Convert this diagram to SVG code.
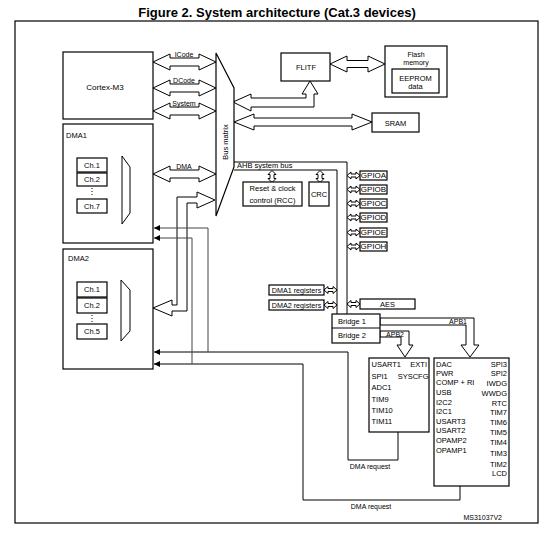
<svg xmlns="http://www.w3.org/2000/svg" xmlns:xlink="http://www.w3.org/1999/xlink" width="552" height="538" viewBox="0 0 552 538">
<style>
.b{fill:#fff;stroke:#000;stroke-width:1.2}
.t{font-family:"Liberation Sans",Arial,Helvetica,sans-serif;font-size:7.5px;fill:#000}
.s{font-size:7px}
.m{text-anchor:middle}
.e{text-anchor:end}
.h{fill:#fff;stroke:#000;stroke-width:1}
.l{fill:none;stroke:#000;stroke-width:1}
.g{fill:none;stroke:#444;stroke-width:1}
.d{fill:none;stroke:#000;stroke-width:1;stroke-dasharray:1,2}
</style>
<defs>
<marker id="ah" viewBox="0 0 6 6" refX="6" refY="3" markerWidth="6" markerHeight="6" orient="auto" markerUnits="userSpaceOnUse"><path d="M0,0 L6,3 L0,6 Z" fill="#000"/></marker>
<path id="dh" class="h" d="M0,0 L4,-3.5 L4,-1.5 L9,-1.5 L9,-3.5 L13,0 L9,3.5 L9,1.5 L4,1.5 L4,3.5 Z"/>
<path id="dv" class="h" d="M0,0 L4,4 L2,4 L2,8 L4,8 L0,12 L-4,8 L-2,8 L-2,4 L-4,4 Z"/>
</defs>
<rect width="552" height="538" fill="#fff"/>
<text class="t" x="277" y="16.6" text-anchor="middle" style="font-size:13px;font-weight:bold">Figure 2. System architecture (Cat.3 devices)</text>
<rect x="15" y="21" width="523" height="502" fill="none" stroke="#000" stroke-width="1.2"/>

<g id="connectors">
<polygon class="h" points="153,62 170,54 170,58 199,58 199,54 216,62 199,70 199,66 170,66 170,70"/>
<text class="t s m" x="184" y="56.7">ICode</text>
<polygon class="h" points="153,88 170,80 170,84 199,84 199,80 216,88 199,96 199,92 170,92 170,96"/>
<text class="t s m" x="184" y="82.5">DCode</text>
<polygon class="h" points="153,111 170,103 170,107 199,107 199,103 216,111 199,119 199,115 170,115 170,119"/>
<text class="t s m" x="184" y="105.5">System</text>
<polygon class="h" points="153,174 170,166 170,170 199,170 199,166 216,174 199,182 199,178 170,178 170,182"/>
<text class="t s m" x="184" y="168.5">DMA</text>
<polygon class="h" points="153,308 172,300 172,305 177,305 177,197 197,197 197,192 215,200 197,208 197,203 187,203 187,311 172,311 172,316"/>
<polygon class="h" points="233,102 251,94 251,98 306,98 306,94 302,94 310,81 318,94 314,94 314,107 251,107 251,111"/>
<polygon class="h" points="330,64 347,56 347,60.5 368,60.5 368,56 385,64 368,72 368,67.5 347,67.5 347,72"/>
<polygon class="h" points="234,122 254,114 254,118 352,118 352,114 372,122 352,130 352,126 254,126 254,130"/>
<path class="l" d="M234,162 H347 V314 M234,170 H337 V314"/>
<text class="t" x="237" y="168">AHB  system  bus</text>
<use xlink:href="#dv" x="272" y="170.5"/>
<use xlink:href="#dv" x="320" y="170.5"/>
<use xlink:href="#dh" x="347" y="175.5"/>
<use xlink:href="#dh" x="347" y="189.5"/>
<use xlink:href="#dh" x="347" y="203.5"/>
<use xlink:href="#dh" x="347" y="217.5"/>
<use xlink:href="#dh" x="347" y="232.5"/>
<use xlink:href="#dh" x="347" y="246.5"/>
<use xlink:href="#dh" x="324" y="290"/>
<use xlink:href="#dh" x="324" y="305"/>
<use xlink:href="#dh" x="347" y="304"/>
<polygon class="h" points="380,318 474,318 474,345 479,345 470,357 461,345 466,345 466,325 380,325"/>
<text class="t s e" x="467" y="324">APB1</text>
<polygon class="h" points="380,331 409,331 409,345 413,345 405,357 397,345 401,345 401,337 380,337"/>
<text class="t s e" x="404" y="336.5">APB2</text>
<path class="l" d="M107,160 H122 M107,176 H122 M107,202 H122 M107,285 H121 M107,301 H121 M107,327 H121" marker-end="url(#ah)"/>
<path class="l" d="M398,432 V460 H348 V352 H154" marker-end="url(#ah)"/>
<path class="g" d="M208,352 V228 H154" marker-end="url(#ah)"/>
<path class="l" d="M460,486 V500 H303 V364 H154" marker-end="url(#ah)"/>
<path class="g" d="M192,364 V238 H154" marker-end="url(#ah)"/>
<text class="t s m" x="370" y="468.7">DMA  request</text>
<text class="t s m" x="371" y="508.7">DMA  request</text>
</g>

<g id="cortex">
<rect class="b" x="63" y="52" width="90" height="67"/>
<text class="t m" x="105" y="90" style="font-size:8px">Cortex-M3</text>
</g>

<g id="dma1">
<rect class="b" x="63" y="124" width="90" height="119"/>
<text class="t" x="66" y="138">DMA1</text>
<rect class="b" x="77" y="158" width="30" height="14"/>
<text class="t m" x="92" y="167.7">Ch.1</text>
<rect class="b" x="77" y="173" width="30" height="13"/>
<text class="t m" x="92" y="182.2">Ch.2</text>
<line class="d" x1="92" y1="188" x2="92" y2="197"/>
<rect class="b" x="77" y="199" width="30" height="14"/>
<text class="t m" x="92" y="208.7">Ch.7</text>
<polygon class="l" points="122,156 130,167 130,213 122,224"/>
</g>

<g id="dma2">
<rect class="b" x="63" y="249" width="90" height="120"/>
<text class="t" x="68" y="261">DMA2</text>
<rect class="b" x="77" y="282" width="30" height="15"/>
<text class="t m" x="92" y="292.2">Ch.1</text>
<rect class="b" x="77" y="298" width="30" height="15"/>
<text class="t m" x="92" y="308.2">Ch.2</text>
<line class="d" x1="92" y1="315" x2="92" y2="323"/>
<rect class="b" x="77" y="324" width="30" height="15"/>
<text class="t m" x="92" y="334.2">Ch.5</text>
<polygon class="l" points="121,280 130,290 130,331 121,341"/>
</g>

<g id="busmatrix">
<polygon class="b" points="216,53 234,88 234,167 216,216"/>
<text class="t m" transform="translate(227.5,142) rotate(-90)">Bus matrix</text>
</g>

<g id="flitf">
<rect class="b" x="281" y="53" width="49" height="28"/>
<text class="t m" x="306" y="70">FLITF</text>
</g>

<g id="flash">
<rect class="b" x="385" y="46" width="62" height="51"/>
<text class="t s m" x="416" y="56.5">Flash</text>
<text class="t s m" x="416" y="64.5">memory</text>
<rect class="b" x="392" y="69" width="47" height="24"/>
<text class="t m" x="415.5" y="80.7">EEPROM</text>
<text class="t m" x="415.5" y="88.7">data</text>
</g>

<g id="sram">
<rect class="b" x="372" y="113" width="47" height="19"/>
<text class="t m" x="395.5" y="125.7">SRAM</text>
</g>

<g id="rcc">
<rect class="b" x="243" y="182" width="59" height="24"/>
<text class="t m" x="272.5" y="190.5">Reset &amp; clock</text>
<text class="t m" x="272.5" y="202.7">control (RCC)</text>
</g>

<g id="crc">
<rect class="b" x="309" y="182" width="20" height="24"/>
<text class="t m" x="319" y="196.7">CRC</text>
</g>

<g id="gpioa"><rect class="b" x="360" y="171" width="27" height="9"/><text class="t m" x="373.5" y="178.4" style="font-size:8px">GPIOA</text></g>
<g id="gpiob"><rect class="b" x="360" y="185" width="27" height="9"/><text class="t m" x="373.5" y="192.4" style="font-size:8px">GPIOB</text></g>
<g id="gpioc"><rect class="b" x="360" y="199" width="27" height="9"/><text class="t m" x="373.5" y="206.4" style="font-size:8px">GPIOC</text></g>
<g id="gpiod"><rect class="b" x="360" y="213" width="27" height="9"/><text class="t m" x="373.5" y="220.4" style="font-size:8px">GPIOD</text></g>
<g id="gpioe"><rect class="b" x="360" y="228" width="27" height="9"/><text class="t m" x="373.5" y="235.4" style="font-size:8px">GPIOE</text></g>
<g id="gpioh"><rect class="b" x="360" y="242" width="27" height="9"/><text class="t m" x="373.5" y="249.4" style="font-size:8px">GPIOH</text></g>

<g id="dma1reg"><rect class="b" x="269" y="285" width="55" height="10"/><text class="t m" x="296.5" y="292.7" style="font-size:7.2px">DMA1 registers</text></g>
<g id="dma2reg"><rect class="b" x="269" y="300" width="55" height="10"/><text class="t m" x="296.5" y="307.7" style="font-size:7.2px">DMA2 registers</text></g>
<g id="aes"><rect class="b" x="360" y="299" width="55" height="10"/><text class="t m" x="387.5" y="306.7">AES</text></g>

<g id="bridge">
<rect class="b" x="332" y="314" width="48" height="29"/>
<line class="l" x1="332" y1="328" x2="380" y2="328"/>
<text class="t" x="338" y="323.5">Bridge  1</text>
<text class="t" x="338" y="337.7">Bridge  2</text>
</g>

<g id="apb2periph">
<rect class="b" x="369" y="358" width="60" height="74"/>
<text class="t" x="371.5" y="366.7">USART1</text>
<text class="t e" x="427" y="366.7">EXTI</text>
<text class="t" x="371.5" y="378.7">SPI1</text>
<text class="t e" x="428.5" y="378.7">SYSCFG</text>
<text class="t" x="371.5" y="390.3">ADC1</text>
<text class="t" x="371.5" y="401.7">TIM9</text>
<text class="t" x="371.5" y="412.7">TIM10</text>
<text class="t" x="371.5" y="424">TIM11</text>
</g>

<g id="apb1periph">
<rect class="b" x="434" y="358" width="75" height="128"/>
<text class="t" x="436" y="366.7">DAC</text>
<text class="t" x="436" y="376">PWR</text>
<text class="t" x="436" y="385.4">COMP + RI</text>
<text class="t" x="436" y="395">USB</text>
<text class="t" x="436" y="404.7">I2C2</text>
<text class="t" x="436" y="414.4">I2C1</text>
<text class="t" x="436" y="424">USART3</text>
<text class="t" x="436" y="433">USART2</text>
<text class="t" x="436" y="443.4">OPAMP2</text>
<text class="t" x="436" y="452.7">OPAMP1</text>
<text class="t e" x="507" y="366.7">SPI3</text>
<text class="t e" x="507" y="376">SPI2</text>
<text class="t e" x="507" y="386">IWDG</text>
<text class="t e" x="507" y="396">WWDG</text>
<text class="t e" x="507" y="406">RTC</text>
<text class="t e" x="507" y="415.4">TIM7</text>
<text class="t e" x="507" y="425.4">TIM6</text>
<text class="t e" x="507" y="435">TIM5</text>
<text class="t e" x="507" y="444.7">TIM4</text>
<text class="t e" x="507" y="456">TIM3</text>
<text class="t e" x="507" y="466.7">TIM2</text>
<text class="t e" x="507" y="476">LCD</text>
</g>

<text class="t s e" x="502" y="519.5">MS31037V2</text>
</svg>
